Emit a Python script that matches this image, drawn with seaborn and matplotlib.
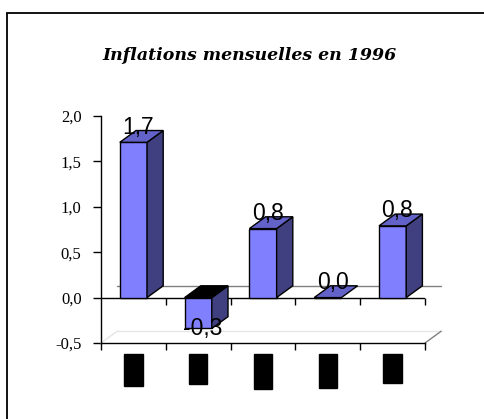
import matplotlib
matplotlib.use("Agg")
import matplotlib.pyplot as plt
from matplotlib.patches import Polygon, Rectangle
from matplotlib.ticker import FuncFormatter
import seaborn as sns

# donnees
mois = ["janv", "févr", "mars", "avril", "mai"]
inflation = [1.71, -0.34, 0.76, 0.0, 0.79]
titre = "Inflations mensuelles en 1996"

sns.set_style("white")
plt.rcParams["font.family"] = ["Liberation Serif", "DejaVu Serif"]
plt.rcParams["text.color"] = "black"
plt.rcParams["xtick.color"] = "black"
plt.rcParams["ytick.color"] = "black"

fig = plt.figure(figsize=(4.84, 4.19), dpi=100)
ax = fig.add_axes([101 / 484, 76 / 419, 324 / 484, 227 / 419])

front = "#8080FF"
side = "#404080"
top = "#6262C8"
DX, DY = 0.25, 0.13  # profondeur 3D (unites de donnees)

sns.barplot(x=mois, y=inflation, color=front, width=0.42, saturation=1,
            edgecolor="black", linewidth=1, ax=ax, zorder=3)

ax.set_xlim(-0.5, 4.5)
ax.set_ylim(-0.5, 2.0)

# faces laterales et superieures des barres
for p, v in zip(ax.patches, inflation):
    x0 = p.get_x()
    x1 = x0 + p.get_width()
    if v > 0:
        topf = [(x0, v), (x1, v), (x1 + DX, v + DY), (x0 + DX, v + DY)]
        sidef = [(x1, 0), (x1 + DX, DY), (x1 + DX, v + DY), (x1, v)]
        ax.add_patch(Polygon(sidef, fc=side, ec="black", lw=1, zorder=3))
        ax.add_patch(Polygon(topf, fc=top, ec="black", lw=1, zorder=3))
    elif v < 0:
        topf = [(x0, 0), (x1, 0), (x1 + DX, DY), (x0 + DX, DY)]
        sidef = [(x1, v), (x1 + DX, v + DY), (x1 + DX, DY), (x1, 0)]
        ax.add_patch(Polygon(sidef, fc=side, ec="black", lw=1, zorder=3))
        ax.add_patch(Polygon(topf, fc="black", ec="black", lw=1, zorder=3))
    else:
        topf = [(x0, 0), (x1, 0), (x1 + DX, DY), (x0 + DX, DY)]
        ax.add_patch(Polygon(topf, fc=top, ec="black", lw=1, zorder=3))

    lab = f"{v:.1f}".replace(".", ",")
    cx = x0 + p.get_width() / 2 + DX * 0.3
    dy = 15 if v >= 0 else 0
    ax.annotate(lab, (cx, v), xytext=(0, dy), textcoords="offset pixels",
                ha="center", va="center", fontsize=16.5,
                family="Liberation Sans", zorder=5)

# plancher et mur du fond
ax.plot([-0.5 + DX, 4.5 + DX], [DY, DY], color="#808080", lw=1,
        clip_on=False, zorder=1)
ax.plot([-0.5 + DX, 4.5 + DX], [-0.5 + DY, -0.5 + DY], color="#e6e6e6",
        lw=1, clip_on=False, zorder=1)
ax.plot([4.5, 4.5 + DX], [-0.5, -0.5 + DY], color="#808080", lw=1,
        clip_on=False, zorder=1)
ax.plot([-0.5, -0.5 + DX], [-0.5, -0.5 + DY], color="#e6e6e6", lw=1,
        clip_on=False, zorder=1)

# axe du zero
bornes = [i + 0.5 for i in range(-1, 5)]
ax.axhline(0, color="black", lw=1, zorder=2)
ax.plot(bornes[1:], [0] * 5, ls="", marker=3, markersize=5,
        color="black", mew=1, clip_on=False, zorder=2)

for s in ["top", "right"]:
    ax.spines[s].set_visible(False)
for s in ["left", "bottom"]:
    ax.spines[s].set_color("black")
    ax.spines[s].set_linewidth(1)

ax.set_yticks([-0.5, 0, 0.5, 1.0, 1.5, 2.0])
ax.yaxis.set_major_formatter(FuncFormatter(lambda v, _: f"{v:.1f}".replace(".", ",")))
ax.tick_params(axis="y", direction="out", length=6, width=1, color="black",
               labelsize=12, labelcolor="black", left=True, pad=8)

ax.set_xticks(bornes, minor=True)
ax.tick_params(axis="x", which="minor", direction="out", length=5, width=1,
               color="black", bottom=True)
ax.tick_params(axis="x", which="major", length=0, pad=10)
for t in ax.get_xticklabels():
    t.set_rotation(90)
    t.set_va("top")
    t.set_fontsize(11)
    t.set_color("black")
    t.set_bbox(dict(fc="black", ec="black", pad=2))

ax.set_xlabel("")
ax.set_ylabel("")

fig.text(250 / 484, 1 - 55 / 419, titre, ha="center", va="center",
         fontsize=12.5, fontweight="bold", fontstyle="italic",
         family="DejaVu Serif", color="black")

fig.patches.append(Rectangle((7 / 484, -0.2), 1.5, 1.2 - 13 / 419,
                             transform=fig.transFigure, fill=False,
                             ec="black", lw=1.3))

fig.savefig("out.png", dpi=100)
